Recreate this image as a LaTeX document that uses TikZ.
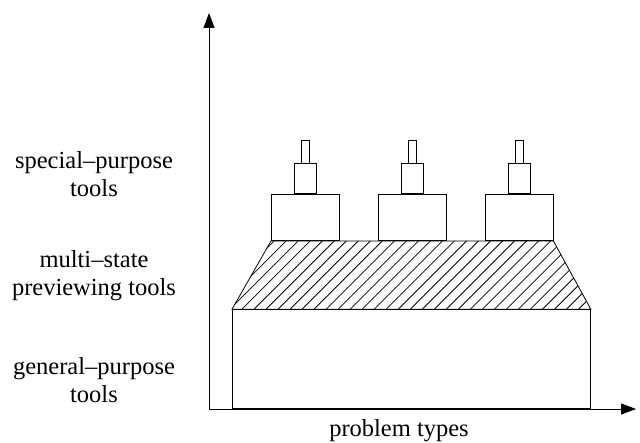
\documentclass[tikz,border=0pt]{standalone}
\usepackage{fontspec}
\setmainfont{Liberation Serif}
\usetikzlibrary{positioning,arrows.meta,patterns.meta}
\tikzset{>={Triangle[length=15pt,width=11pt]}}

\begin{document}
\begin{tikzpicture}[x=1pt, y=-1pt, line width=0.8pt, node distance=0pt,
    box/.style={draw, inner sep=0pt, minimum width=68pt, minimum height=46pt},
    mid/.style={draw, inner sep=0pt, minimum width=22pt, minimum height=30pt},
    tip/.style={draw, inner sep=0pt, minimum width=8pt, minimum height=23pt},
    lbl/.style={align=center, font=\fontsize{24.5}{28}\selectfont}]

      \useasboundingbox (0,0) rectangle (640,443);

      % axes
      \coordinate (origin) at (209,409);
      \coordinate (ytop) at (209,13);
      \coordinate (xend) at (636,409);
      \draw[->] (origin) -- (ytop);
      \draw[->] (origin) -- (xend);

      % general-purpose block
      \node[draw, inner sep=0pt, minimum width=358pt, minimum height=99pt,
            anchor=south west] (general) at (232,409) {};

      % special-purpose towers
      \node[box, anchor=south west] (tool1) at (271,241) {};
      \node[mid] (tool1m) [above=of tool1] {};
      \node[tip] (tool1t) [above=of tool1m] {};
      \node[box] (tool2) [right=38pt of tool1] {};
      \node[mid] (tool2m) [above=of tool2] {};
      \node[tip] (tool2t) [above=of tool2m] {};
      \node[box] (tool3) [right=38pt of tool2] {};
      \node[mid] (tool3m) [above=of tool3] {};
      \node[tip] (tool3t) [above=of tool3m] {};

      % multi-state previewing layer
      \draw[pattern={Lines[angle=45, distance=8.5pt, line width=0.8pt]}]
            (general.north west) -- (tool1.south west) -- (tool3.south east)
            -- (general.north east) -- cycle;

      % labels
      \node[lbl] (special_lbl) at (94,174) {special–purpose\\tools};
      \node[lbl] (multi_lbl) at (94,276) {multi–state\\previewing tools};
      \node[lbl] (general_lbl) at (94,380) {general–purpose\\tools};
      \node[lbl, anchor=base] (xaxis_lbl) at (399,437) {problem types};

\end{tikzpicture}
\end{document}
